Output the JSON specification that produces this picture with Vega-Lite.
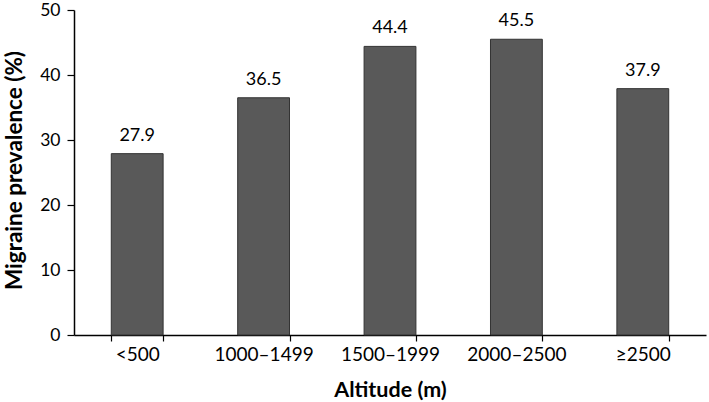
{
  "$schema": "https://vega.github.io/schema/vega-lite/v6.json",
  "autosize": {"type": "none"},
  "width": 632,
  "height": 325,
  "padding": {"left": 74, "top": 10, "right": 3, "bottom": 67},
  "background": "white",
  "config": {
    "view": {"stroke": null},
    "font": "Lato",
    "axis": {"labelFont": "Lato", "titleFont": "Lato", "labelColor": "#000", "titleColor": "#000", "domainColor": "#000", "tickColor": "#000", "grid": false}
  },
  "data": {
    "values": [
      {"altitude": "<500", "prevalence": 27.9},
      {"altitude": "1000–1499", "prevalence": 36.5},
      {"altitude": "1500–1999", "prevalence": 44.4},
      {"altitude": "2000–2500", "prevalence": 45.5},
      {"altitude": "≥2500", "prevalence": 37.9}
    ]
  },
  "encoding": {
    "x": {
      "field": "altitude", "type": "nominal", "sort": null,
      "scale": {"paddingInner": 0.59, "paddingOuter": 0.295},
      "axis": {
        "title": "Altitude (m)", "labelAngle": 0, "labelFontSize": 19, "labelPadding": 4,
        "tickBand": "extent", "tickSize": 6, "domainWidth": 1.5, "tickWidth": 1.2,
        "titleFontSize": 21.5, "titleFontWeight": "bold",
        "titleY": 44, "titleBaseline": "top"
      }
    },
    "y": {
      "field": "prevalence", "type": "quantitative",
      "scale": {"domain": [0, 50], "nice": false},
      "axis": {
        "title": "Migraine prevalence (%)", "values": [0, 10, 20, 30, 40, 50],
        "labelFontSize": 17.5, "labelPadding": 7, "tickSize": 7, "domainWidth": 1.5, "tickWidth": 1.2,
        "titleFontSize": 22.5, "titleFontWeight": "bold",
        "titleX": -60, "titleY": 160, "titleBaseline": "middle", "titleAlign": "center", "titleAngle": -90
      }
    }
  },
  "layer": [
    {"mark": {"type": "bar", "fill": "#595959", "stroke": "#333333", "strokeWidth": 1}},
    {
      "mark": {"type": "text", "baseline": "alphabetic", "dy": -13, "fontSize": 18, "font": "Lato", "color": "#000"},
      "encoding": {"text": {"field": "prevalence", "type": "quantitative", "format": ".1f"}}
    }
  ]
}
